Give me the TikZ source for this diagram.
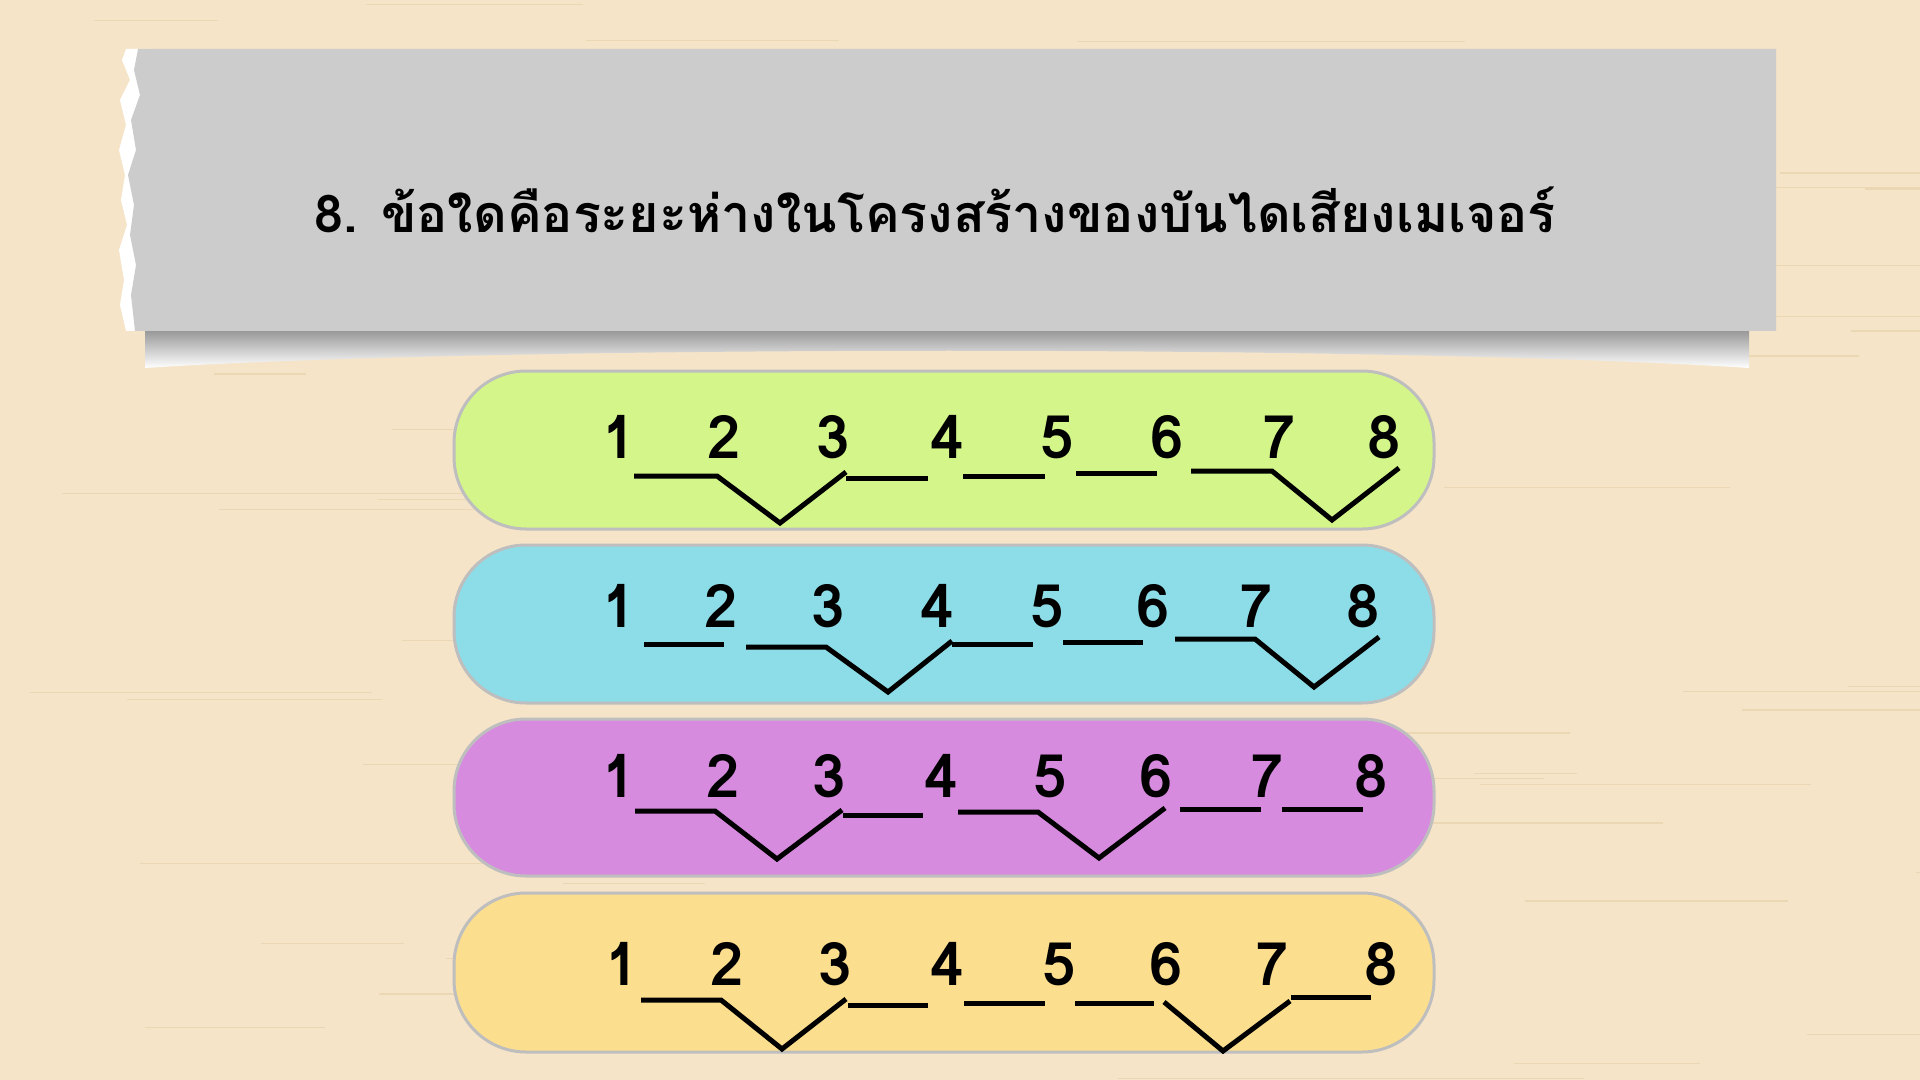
\documentclass[tikz,border=0pt]{standalone}
\usepackage{fontspec}
\newfontfamily\thaifont[Script=Thai]{Loma}
\newfontfamily\digitfont{Loma}
\definecolor{wood}{HTML}{F5E4C8}
\definecolor{grainc}{HTML}{E6CFA8}
\definecolor{panelgray}{HTML}{CCCCCC}
\definecolor{pillgreen}{HTML}{D4F58A}
\definecolor{pillcyan}{HTML}{8DDDE8}
\definecolor{pillpurple}{HTML}{D78BDE}
\definecolor{pillyellow}{HTML}{FBDE8E}
\definecolor{pillborder}{HTML}{BEBEBE}
\begin{document}
\begin{tikzpicture}[x=0.5pt,y=-0.5pt,
  pill/.style={draw=pillborder,line width=1.5pt,rounded corners=36pt},
  dig/.style={font=\digitfont\bfseries\fontsize{30}{31}\selectfont,inner sep=0pt,anchor=center},
  seg/.style={line width=2.5pt,black},
  grain/.style={grainc,line width=0.6pt,opacity=0.6}]
\useasboundingbox (0,0) rectangle (1920,1080);
\fill[wood] (0,0) rectangle (1920,1080);
\pgfmathsetseed{7}
\foreach \i in {1,...,70}{
  \pgfmathsetmacro\yy{rnd*1080}
  \pgfmathsetmacro\xx{rnd*1920}
  \pgfmathsetmacro\ll{80+rnd*400}
  \draw[grain] (\xx,\yy) -- ++(\ll,0);
}
% shadow curl under the title panel
\shade[top color=black!40,bottom color=white] (145,331) -- (1749,331) -- (1749,368) .. controls (1400,345) and (500,345) .. (145,368) -- cycle;
% torn white edge
\fill[white] (126,49) -- (122,60) -- (130,80) -- (120,100) -- (126,125) -- (119,150) -- (125,175) -- (121,200) -- (127,225) -- (119,250) -- (124,280) -- (120,305) -- (126,331) -- (150,331) -- (150,49) -- cycle;
% title panel
\fill[panelgray] (138,49) -- (134,70) -- (140,95) -- (131,120) -- (136,150) -- (128,175) -- (134,205) -- (130,235) -- (136,265) -- (131,295) -- (135,331) -- (1776,331) -- (1776,49) -- cycle;
\node[font=\thaifont\bfseries\fontsize{26}{30}\selectfont,inner sep=0pt] (title) at (935,210) {8. ข้อใดคือระยะห่างในโครงสร้างของบันไดเสียงเมเจอร์};
% pills
\draw[pill,fill=pillgreen]  (454,371) rectangle (1434,529);
\draw[pill,fill=pillcyan]   (454,545) rectangle (1434,703);
\draw[pill,fill=pillpurple] (454,719) rectangle (1434,876);
\draw[pill,fill=pillyellow] (454,893) rectangle (1434,1052);
% pill 1
\foreach \n/\x in {1/619,2/724,3/833,4/947,5/1057,6/1167,7/1279,8/1384}
  \node[dig] (a\n) at (\x,437) {\n};
\draw[seg] (634,476) -- (717,476) -- (780,523) -- (846,472);
\draw[seg] (846,478) -- (928,478);
\draw[seg] (963,476) -- (1045,476);
\draw[seg] (1076,473) -- (1157,473);
\draw[seg] (1191,471) -- (1272,471) -- (1332,520) -- (1399,468);
% pill 2
\foreach \n/\x in {1/619,2/721,3/828,4/937,5/1047,6/1153,7/1256,8/1363}
  \node[dig] (b\n) at (\x,606) {\n};
\draw[seg] (644,644) -- (724,644);
\draw[seg] (746,647) -- (826,647) -- (888,692) -- (952,641);
\draw[seg] (952,644) -- (1033,644);
\draw[seg] (1063,642) -- (1143,642);
\draw[seg] (1175,639) -- (1255,639) -- (1314,687) -- (1379,637);
% pill 3
\foreach \n/\x in {1/619,2/723,3/829,4/941,5/1050,6/1156,7/1267,8/1371}
  \node[dig] (c\n) at (\x,776) {\n};
\draw[seg] (635,811) -- (715,811) -- (777,859) -- (842,810);
\draw[seg] (843,815) -- (923,815);
\draw[seg] (958,812) -- (1038,812) -- (1099,858) -- (1165,808);
\draw[seg] (1180,809) -- (1261,809);
\draw[seg] (1282,809) -- (1363,809);
% pill 4
\foreach \n/\x in {1/622,2/727,3/835,4/947,5/1059,6/1166,7/1272,8/1381}
  \node[dig] (e\n) at (\x,964) {\n};
\draw[seg] (641,1000) -- (721,1000) -- (782,1049) -- (846,999);
\draw[seg] (848,1005) -- (928,1005);
\draw[seg] (964,1003) -- (1045,1003);
\draw[seg] (1075,1003) -- (1154,1003);
\draw[seg] (1164,1002) -- (1223,1051) -- (1290,1001);
\draw[seg] (1291,997) -- (1371,997);
\end{tikzpicture}
\end{document}
